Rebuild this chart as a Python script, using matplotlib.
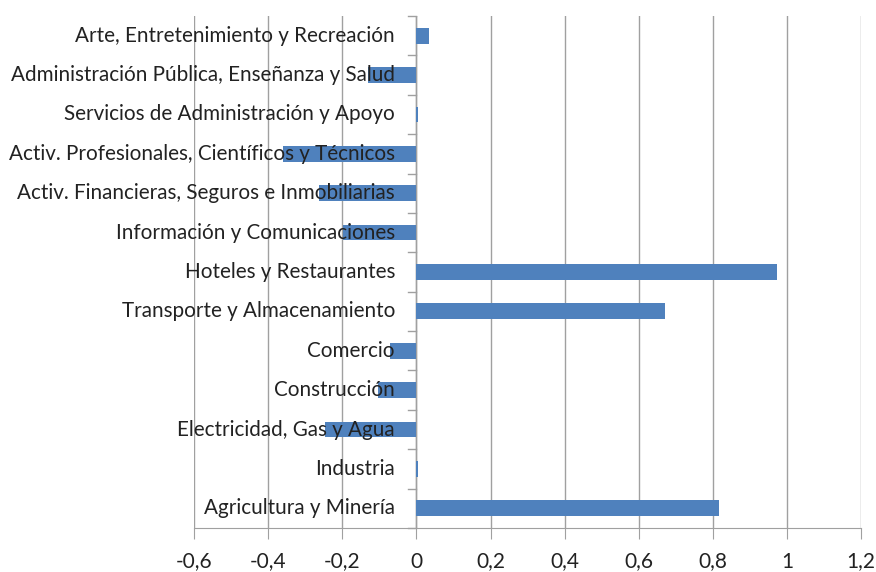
import matplotlib
matplotlib.use('Agg')
import matplotlib.pyplot as plt
import numpy as np

# categorías de abajo hacia arriba
sectores = ['Agricultura y Minería', 'Industria', 'Electricidad, Gas y Agua',
            'Construcción', 'Comercio', 'Transporte y Almacenamiento',
            'Hoteles y Restaurantes', 'Información y Comunicaciones',
            'Activ. Financieras, Seguros e Inmobiliarias',
            'Activ. Profesionales, Científicos y Técnicos',
            'Servicios de Administración y Apoyo',
            'Administración Pública, Enseñanza y Salud',
            'Arte, Entretenimiento y Recreación']
valores = [0.817, 0.005, -0.246, -0.104, -0.07, 0.67, 0.974, -0.198,
           -0.263, -0.36, 0.005, -0.13, 0.034]
xticks = [-0.6, -0.4, -0.2, 0, 0.2, 0.4, 0.6, 0.8, 1, 1.2]

plt.rcParams['font.family'] = ['Lato', 'DejaVu Sans']

fig = plt.figure(figsize=(8.76, 5.72), dpi=100)
ax = fig.add_axes([0.2215, 0.077, 0.983 - 0.2215, 0.972 - 0.077])

y = np.arange(len(sectores))
ax.barh(y, valores, height=0.4, color='#4f81bd', zorder=3)

ax.set_xlim(-0.6, 1.2)
ax.set_ylim(-0.5, len(sectores) - 0.5)
ax.set_xticks(xticks)
ax.set_xticklabels([('%g' % v).replace('.', ',') for v in xticks], fontsize=15, color='#222222')
ax.tick_params(axis='x', length=8, color='#a0a0a0', pad=9, direction='out')
ax.grid(axis='x', color='#a0a0a0', linewidth=1, zorder=1)
ax.set_axisbelow(True)

# eje vertical en x=0 con marcas entre categorías
ax.set_yticks([])
for s in ['left', 'right', 'top']:
    ax.spines[s].set_visible(False)
ax.spines['bottom'].set_color('#a0a0a0')
ax.axvline(0, color='#a0a0a0', linewidth=1, zorder=2)
for b in np.arange(-0.5, len(sectores), 1.0):
    ax.plot([-0.022, 0], [b, b], color='#a0a0a0', linewidth=1, zorder=2, clip_on=False)

# etiquetas junto al eje cero, encima de las barras
for yi, nombre in zip(y, sectores):
    ax.text(-0.058, yi, nombre, ha='right', va='center', fontsize=14.9,
            color='#222222', zorder=4)

fig.savefig('out.png', dpi=100)
